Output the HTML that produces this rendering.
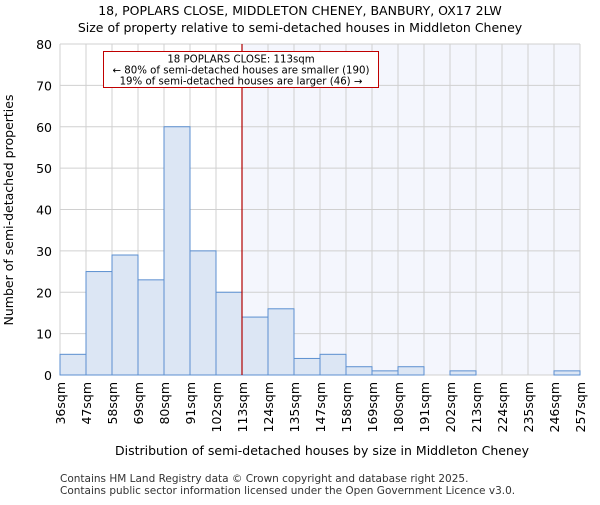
<!DOCTYPE html>
<html><head><meta charset="utf-8"><style>body{margin:0;background:#fff}svg{font-family:"DejaVu Sans","Liberation Sans",sans-serif}</style></head>
<body>
<svg id="chart" width="600" height="500" viewBox="0 0 600 500">
<text x="300" y="15" text-anchor="middle" font-size="12.5">18, POPLARS CLOSE, MIDDLETON CHENEY, BANBURY, OX17 2LW</text>
<text x="300" y="32" text-anchor="middle" font-size="12.5">Size of property relative to semi-detached houses in Middleton Cheney</text>
<g id="plot"></g>
<text x="322" y="455" text-anchor="middle" font-size="12.5">Distribution of semi-detached houses by size in Middleton Cheney</text>
<text transform="translate(13,210) rotate(-90)" text-anchor="middle" font-size="12.5">Number of semi-detached properties</text>
<text x="60" y="482" font-size="10.5" fill="#333">Contains HM Land Registry data © Crown copyright and database right 2025.</text>
<text x="60" y="494" font-size="10.5" fill="#333">Contains public sector information licensed under the Open Government Licence v3.0.</text>
</svg>
<script>
const binLabels=["36sqm","47sqm","58sqm","69sqm","80sqm","91sqm","102sqm","113sqm","124sqm","135sqm","147sqm","158sqm","169sqm","180sqm","191sqm","202sqm","213sqm","224sqm","235sqm","246sqm","257sqm"];
const counts=[5,25,29,23,60,30,20,14,16,4,5,2,1,2,0,1,0,0,0,1];
const yTicks=[0,10,20,30,40,50,60,70,80];
const markerIndex=7;
const annotationLines=["18 POPLARS CLOSE: 113sqm","← 80% of semi-detached houses are smaller (190)","19% of semi-detached houses are larger (46) →"];
const NS="http://www.w3.org/2000/svg";
const L=60,R=580,T=44,B=375,yMax=80;
const nb=counts.length;
const xs=i=>L+(R-L)*i/nb;
const ys=v=>B-(B-T)*v/yMax;
const g=document.getElementById('plot');
function mk(t,a){const e=document.createElementNS(NS,t);for(const k in a)e.setAttribute(k,a[k]);g.appendChild(e);return e;}
let e;
e=mk('rect',{x:xs(markerIndex),y:T,width:R-xs(markerIndex),height:B-T,fill:'#f4f6fd'});


for(let i=0;i<=nb;i++){e=mk('line',{x1:xs(i),x2:xs(i),y1:T,y2:B,stroke:'#d0d0d0','stroke-width':1});

}
yTicks.forEach(v=>{e=mk('line',{x1:L,x2:R,y1:ys(v),y2:ys(v),stroke:'#d0d0d0','stroke-width':1});


e=mk('text',{x:L-8,y:ys(v)+5,'text-anchor':'end','font-size':12.5});e.textContent=v;

});
counts.forEach((c,i)=>{if(c<=0)return;e=mk('rect',{x:xs(i),y:ys(c),width:xs(i+1)-xs(i),height:B-ys(c),fill:'#dce6f4',stroke:'#5b8fd0','stroke-width':1});

});
binLabels.forEach((t,i)=>{e=mk('text',{transform:`translate(${xs(i)+5},382) rotate(-90)`,'text-anchor':'end','font-size':12.5});e.textContent=t;

});
e=mk('line',{x1:xs(markerIndex),x2:xs(markerIndex),y1:T,y2:B,stroke:'#b00000','stroke-width':1.2});


e=mk('rect',{x:103.5,y:51.5,width:275,height:36,fill:'#fff',stroke:'#c00000','stroke-width':1});


annotationLines.forEach((t,i)=>{e=mk('text',{x:241,y:62.5+i*11,'text-anchor':'middle','font-size':10.2});e.textContent=t;

});
</script>
</body></html>
